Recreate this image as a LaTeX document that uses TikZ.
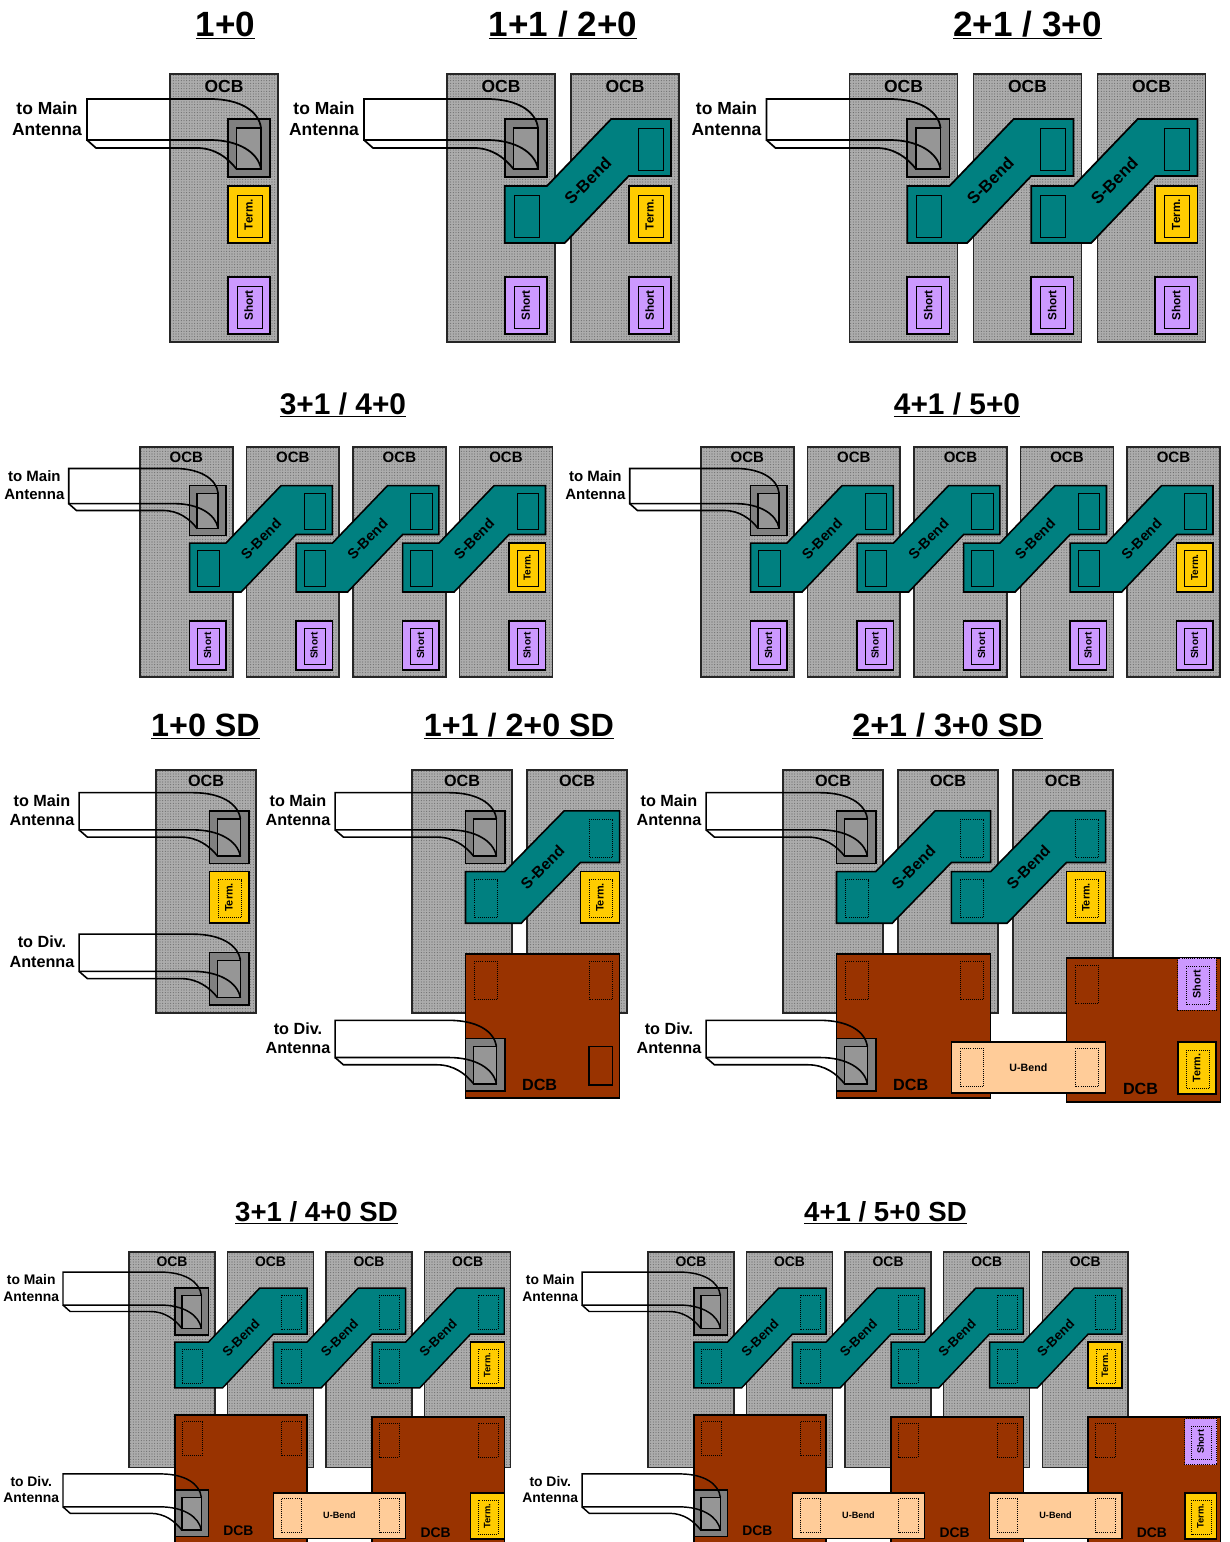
\documentclass[tikz,border=0pt]{standalone}
\usepackage{xcolor}
\usepackage{fontspec}
\setmainfont{Liberation Sans}
\usetikzlibrary{patterns.meta}
\definecolor{boardgray}{RGB}{172,172,172}
\definecolor{feedgray}{RGB}{128,128,128}
\definecolor{feedlight}{RGB}{150,150,150}
\definecolor{bendteal}{RGB}{0,128,128}
\definecolor{termyellow}{RGB}{255,204,0}
\definecolor{shortpurple}{RGB}{204,153,255}
\definecolor{dcbbrown}{RGB}{153,51,0}
\definecolor{ubendpeach}{RGB}{255,204,153}

% sizes of one row
\def\modw{42.3}
\newcommand{\setrow}[3]{%
  \def\sx{#1}\def\sy{#2}\def\lw{#3}%
  \pgfmathsetmacro\fsbig{13.1*\sx}\pgfmathsetmacro\fsskip{15.8*\sx}%
  \pgfmathsetmacro\fsbend{12.5*\sx}\pgfmathsetmacro\fsmod{8.8*\sx}%
  \pgfmathsetmacro\fsub{8.6*\sx}}
% OCB boards
\newcommand{\boards}[1]{\foreach \i in {1,...,#1}{
  \draw[board] ({(\i-1)*124},0) rectangle ++(108,268);
  \node[boardtext] (ocb\i) at ({(\i-1)*124+54},12) {OCB};
}}
% term and short modules
\newcommand{\module}[4]{
  \pgfmathsetmacro\cx{(#1-1)*124+57.7}
  \draw[#3] (\cx,#2) rectangle ++(\modw,57);
  \draw[modinner] ({\cx+\modw/2-11.5},{#2+9}) rectangle ++(25,42);
  \node[modtext, rotate=90] (mod#1#4) at ({\cx+\modw/2-0.2},{#2+28.5}) {#4};
}
\newcommand{\shorts}[1]{\foreach \i in {1,...,#1}{\module{\i}{203}{shortbox}{Short}}}
% S-bend from one board to the next
\newcommand{\sbend}[1]{
  \pgfmathsetmacro\cx{(#1-1)*124+57.7}
  \draw[bendbox] (\cx,112) -- ++(42.3,0) -- ({\cx+106.5},45) -- ({\cx+166.3},45) -- ({\cx+166.3},102) -- ({\cx+124},102) -- ({\cx+60},169) -- (\cx,169) -- cycle;
  \draw[modinner] ({\cx+9.5},121) rectangle ++(25,42);
  \draw[modinner] ({\cx+133.5},54) rectangle ++(25,42);
  \node[bendtext, rotate=45] (sbend#1) at ({\cx+83},107) {S-Bend};
}
% DCB board
\newcommand{\dcb}[2]{
  \pgfmathsetmacro\cx{(#1-1)*124+57.7}
  \draw[dcbbox] (\cx,{203+#2}) rectangle ++(166.3,158.5);
  \draw[modinner] ({\cx+9.5},{211+#2}) rectangle ++(25,42);
  \draw[modinner] ({\cx+133.5},{211+#2}) rectangle ++(25,42);
  \node[boardtext] (dcb#1) at ({\cx+80},{347+#2}) {DCB};
}
% U-bend
\newcommand{\ubend}[1]{
  \pgfmathsetmacro\cx{(#1-1)*124+57.7}
  \draw[ubendbox] (\cx,300) rectangle ++(166.3,56);
  \draw[modinner] ({\cx+9.5},307) rectangle ++(25,42);
  \draw[modinner] ({\cx+133.5},307) rectangle ++(25,42);
  \node[ubendtext] (ubend#1) at ({\cx+83},328) {U-Bend};
}
% antenna feed
\newcommand{\feed}[4]{
  \begin{scope}[shift={(0,#1)}]
    \draw[feedbox] (57.7,45) rectangle (100,103);
    \draw[feedinner] (66.5,54) rectangle (91,95);
    \draw[cable] (91,54) .. controls (89,37) and (70,25) .. (40,25) -- (-83,25) -- (-83,66) -- (40,66) .. controls (68,66) and (88,78) .. (91,95);
    \draw[cable] (-83,66) -- (-74,74) -- (27,74) .. controls (45,74) and (58,84) .. (66.5,95);
    \node[feedtext] (#4) at (-123,44.5) {#2\\#3};
  \end{scope}
}

\begin{document}
\begin{tikzpicture}[
    x=0.75pt, y=-0.75pt,
    board/.style={draw=black!85, line width=\lw pt, preaction={fill=boardgray}, pattern={Dots[distance=2pt,radius=0.42pt]}, pattern color=black!60},
    boardtext/.style={font=\bfseries\fontsize{\fsbig}{\fsbig}\selectfont},
    feedbox/.style={draw=black, fill=feedgray, line width=\lw pt},
    feedinner/.style={draw=black, fill=feedlight, line width=\lw pt},
    cable/.style={draw=black, line width=\lw pt},
    feedtext/.style={align=center, inner sep=0pt, font=\bfseries\fontsize{\fsbig}{\fsskip}\selectfont},
    termbox/.style={draw=black, fill=termyellow, line width=\lw pt},
    shortbox/.style={draw=black, fill=shortpurple, line width=\lw pt},
    shortdot/.style={draw=black, densely dotted, fill=shortpurple, line width=0.6pt},
    modtext/.style={inner sep=0pt, font=\bfseries\fontsize{\fsmod}{\fsmod}\selectfont},
    bendbox/.style={draw=black, fill=bendteal, line width=\lw pt},
    bendtext/.style={inner sep=0pt, font=\bfseries\fontsize{\fsbend}{\fsbend}\selectfont},
    dcbbox/.style={draw=black, fill=dcbbrown, line width=\lw pt},
    ubendbox/.style={draw=black, fill=ubendpeach, line width=\lw pt},
    ubendtext/.style={inner sep=0pt, font=\bfseries\fontsize{\fsub}{\fsub}\selectfont},
    figtitle/.style={anchor=base, inner sep=0pt, font=\bfseries\fontsize{#1}{#1}\selectfont},
    fig/.style={shift={#1}, xscale=\sx, yscale=\sy}
]
\useasboundingbox (0,0) rectangle (1229,1542);
\clip (0,0) rectangle (1229,1542);

% Row 1
\setrow{1}{1}{1.3}
\tikzset{modinner/.style={draw=black, line width=0.75pt}}
\node[figtitle=26.3pt] (title1) at (225.5,36) {\underline{1+0}};
\node[figtitle=26.3pt] (title2) at (563,36) {\underline{1+1 / 2+0}};
\node[figtitle=26.3pt] (title3) at (1027.5,36) {\underline{2+1 / 3+0}};

\begin{scope}[fig={(170,74)}, name prefix=a-]
  \boards{1}
  \shorts{1}
  \module{1}{112}{termbox}{Term.}
  \feed{0}{to Main}{Antenna}{mainlabel}
\end{scope}

\begin{scope}[fig={(447,74)}, name prefix=b-]
  \boards{2}
  \shorts{2}
  \module{2}{112}{termbox}{Term.}
  \sbend{1}
  \feed{0}{to Main}{Antenna}{mainlabel}
\end{scope}

\begin{scope}[fig={(849.5,74)}, name prefix=c-]
  \boards{3}
  \shorts{3}
  \module{3}{112}{termbox}{Term.}
  \sbend{1}
  \sbend{2}
  \feed{0}{to Main}{Antenna}{mainlabel}
\end{scope}

% Row 2
\setrow{0.859}{0.858}{1.2}
\node[figtitle=22.4pt] (title4) at (343,414) {\underline{3+1 / 4+0}};
\node[figtitle=22.4pt] (title5) at (957,414) {\underline{4+1 / 5+0}};

\begin{scope}[fig={(140,447)}, name prefix=d-]
  \boards{4}
  \shorts{4}
  \module{4}{112}{termbox}{Term.}
  \foreach \j in {1,2,3}{\sbend{\j}}
  \feed{0}{to Main}{Antenna}{mainlabel}
\end{scope}

\begin{scope}[fig={(701,447)}, name prefix=e-]
  \boards{5}
  \shorts{5}
  \module{5}{112}{termbox}{Term.}
  \foreach \j in {1,2,3,4}{\sbend{\j}}
  \feed{0}{to Main}{Antenna}{mainlabel}
\end{scope}

% Row 3
\setrow{0.927}{0.907}{1.2}
\tikzset{modinner/.style={draw=black, densely dotted, line width=0.55pt}}
\node[figtitle=24.2pt] (title6) at (205.5,736) {\underline{1+0 SD}};
\node[figtitle=24.2pt] (title7) at (519,736) {\underline{1+1 / 2+0 SD}};
\node[figtitle=24.2pt] (title8) at (947.5,736) {\underline{2+1 / 3+0 SD}};

\begin{scope}[fig={(156,770)}, name prefix=f-]
  \boards{1}
  \module{1}{112}{termbox}{Term.}
  \feed{0}{to Main}{Antenna}{mainlabel}
  \feed{156}{to Div.}{Antenna}{divlabel}
\end{scope}

\begin{scope}[fig={(412,770)}, name prefix=g-]
  \boards{2}
  \module{2}{112}{termbox}{Term.}
  \sbend{1}
  \dcb{1}{0}
  \draw[draw=black, line width=\lw pt] (191.2,305) rectangle ++(25,42);
  \feed{0}{to Main}{Antenna}{mainlabel}
  \feed{251}{to Div.}{Antenna}{divlabel}
\end{scope}

\begin{scope}[fig={(783,770)}, name prefix=h-]
  \boards{3}
  \module{3}{112}{termbox}{Term.}
  \sbend{1}
  \sbend{2}
  \dcb{1}{0}
  \dcb{3}{4.4}
  {\def\modw{41}
  \module{3.97}{207.5}{shortdot}{Short}
  \module{3.97}{300}{termbox}{Term.}}
  \ubend{2}
  \feed{0}{to Main}{Antenna}{mainlabel}
  \feed{251}{to Div.}{Antenna}{divlabel}
\end{scope}

% Row 4
\setrow{0.795}{0.804}{1.1}
\node[figtitle=20.7pt] (title9) at (316.5,1221) {\underline{3+1 / 4+0 SD}};
\node[figtitle=20.7pt] (title10) at (885.5,1221) {\underline{4+1 / 5+0 SD}};

\begin{scope}[fig={(129,1252)}, name prefix=i-]
  \boards{4}
  \module{4}{112}{termbox}{Term.}
  \foreach \j in {1,2,3}{\sbend{\j}}
  \dcb{1}{0}
  \dcb{3}{2}
  \module{4}{300}{termbox}{Term.}
  \ubend{2}
  \feed{0}{to Main}{Antenna}{mainlabel}
  \feed{251}{to Div.}{Antenna}{divlabel}
\end{scope}

\begin{scope}[fig={(648,1252)}, name prefix=j-]
  \boards{5}
  \module{5}{112}{termbox}{Term.}
  \foreach \j in {1,2,3,4}{\sbend{\j}}
  \dcb{1}{0}
  \dcb{3}{2}
  \dcb{5}{2}
  {\def\modw{40}
  \module{5.98}{207.5}{shortdot}{Short}
  \module{5.98}{300}{termbox}{Term.}}
  \ubend{2}
  \ubend{4}
  \feed{0}{to Main}{Antenna}{mainlabel}
  \feed{251}{to Div.}{Antenna}{divlabel}
\end{scope}

\end{tikzpicture}
\end{document}
